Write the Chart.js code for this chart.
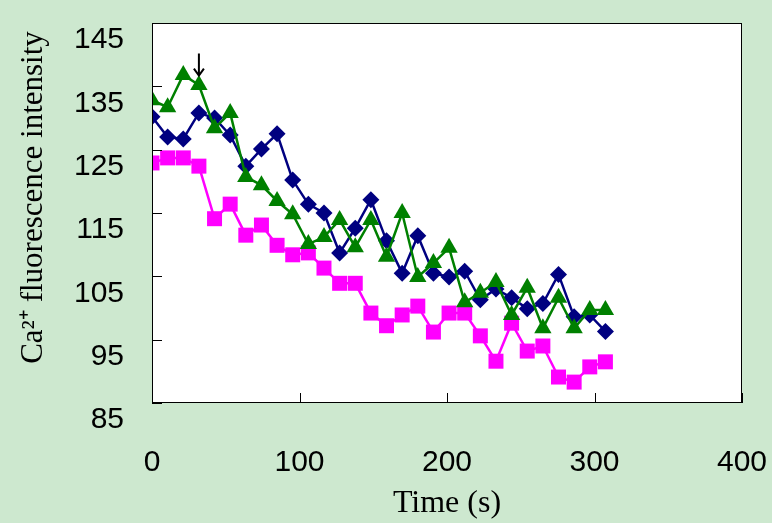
<!DOCTYPE html>
<html>
<head>
<meta charset="utf-8">
<script src="https://cdn.jsdelivr.net/npm/chart.js@4.4.1/dist/chart.umd.min.js"></script>
<style>
  html, body { margin: 0; padding: 0; background: #cde8cf; }
  #wrap { width: 772px; height: 523px; }
</style>
</head>
<body>
<div id="wrap"><canvas id="calcium"></canvas></div>
<script>
"use strict"

// time points (s)
const times = [0, 10.6, 21.2, 31.8, 42.4, 53, 63.6, 74.2, 84.8, 95.4, 106, 116.6, 127.2, 137.8, 148.4,
               159, 169.6, 180.2, 190.8, 201.4, 212, 222.6, 233.2, 243.8, 254.4, 265, 275.6, 286.2, 296.8, 307.4];

// fluorescence, three cells
const blueValues = [130.2, 127.0, 126.7, 130.8, 130.0, 127.3, 122.4, 125.1, 127.5, 120.2, 116.4, 115.0, 108.7, 112.6, 117.1,
                    110.6, 105.5, 111.4, 105.5, 104.9, 105.8, 101.3, 103.0, 101.6, 99.9, 100.7, 105.3, 98.6, 98.9, 96.3];
const greenValues = [132.8, 131.7, 136.8, 135.2, 128.4, 130.8, 120.7, 119.4, 116.9, 114.8, 110.1, 111.2, 113.9, 109.6, 113.9,
                     108.1, 115.0, 104.9, 107.1, 109.5, 100.9, 102.4, 104.1, 98.9, 103.2, 96.8, 101.6, 96.8, 99.7, 99.7];
const pinkValues = [122.9, 123.7, 123.7, 122.4, 114.1, 116.4, 111.5, 113.1, 109.9, 108.4, 108.7, 106.3, 103.9, 103.9, 99.2,
                    97.2, 98.9, 100.3, 96.2, 99.2, 99.2, 95.6, 91.6, 97.6, 93.2, 94.0, 89.1, 88.3, 90.7, 91.5];

const yTicks = [85, 95, 105, 115, 125, 135, 145];
const xTicks = [0, 100, 200, 300, 400];
const arrowIndex = 3;   // stimulus marker above 4th point

function toPoints(vals) {
    return vals.map((v, i) => ({x: times[i], y: v}));
}

const framePlugin = {
    id: 'frame',
    beforeDraw(chart) {
        const {ctx, chartArea: a, width, height} = chart;
        ctx.save();
        ctx.fillStyle = '#cde8cf';
        ctx.fillRect(0, 0, width, height);
        ctx.fillStyle = '#ffffff';
        ctx.fillRect(a.left, a.top, a.right - a.left, a.bottom - a.top);
        ctx.restore();
    },
    afterDatasetsDraw(chart) {
        const {ctx, chartArea: a, scales} = chart;
        ctx.save();
        ctx.strokeStyle = '#000';
        ctx.lineWidth = 1;
        ctx.strokeRect(a.left + 0.5, a.top + 0.5, a.right - a.left - 1, a.bottom - a.top - 1);
        ctx.beginPath();
        scales.y.ticks.forEach(t => {
            const py = Math.round(scales.y.getPixelForValue(t.value)) + 0.5;
            ctx.moveTo(a.left, py);
            ctx.lineTo(a.left + 10, py);
        });
        scales.x.ticks.forEach(t => {
            const px = Math.round(scales.x.getPixelForValue(t.value)) + 0.5;
            ctx.moveTo(px, a.bottom);
            ctx.lineTo(px, a.bottom - 10);
        });
        ctx.stroke();

        // arrow
        const ax = scales.x.getPixelForValue(times[arrowIndex]);
        const y0 = scales.y.getPixelForValue(140.2);
        const y1 = scales.y.getPixelForValue(136.7);
        ctx.lineWidth = 2;
        ctx.beginPath();
        ctx.moveTo(ax, y0);
        ctx.lineTo(ax, y1);
        ctx.moveTo(ax - 5, y1 - 7);
        ctx.lineTo(ax, y1);
        ctx.lineTo(ax + 5, y1 - 7);
        ctx.stroke();
        ctx.restore();
    }
};

const ctx = document.getElementById('calcium');
const myChart = new Chart(ctx, {
    type: 'line',
    data: {
        datasets: [{
            label: 'green',
            data: toPoints(greenValues),
            borderColor: '#008000',
            backgroundColor: '#008000',
            borderWidth: 2.5,
            pointStyle: 'triangle',
            pointRadius: 10,
            pointBorderWidth: 0
        }, {
            label: 'blue',
            data: toPoints(blueValues),
            borderColor: '#000080',
            backgroundColor: '#000080',
            borderWidth: 2.5,
            pointStyle: 'rectRot',
            pointRadius: 8.5,
            pointBorderWidth: 0
        }, {
            label: 'magenta',
            data: toPoints(pinkValues),
            borderColor: '#ff00ff',
            backgroundColor: '#ff00ff',
            borderWidth: 2.5,
            pointStyle: 'rect',
            pointRadius: 10.6,
            pointBorderWidth: 0
        }]
    },
    options: {
        responsive: true,
        maintainAspectRatio: false,
        animation: false,
        layout: { padding: { top: 23, right: 30, left: 0, bottom: 0 } },
        plugins: {
            legend: { display: false },
            tooltip: { enabled: false }
        },
        elements: { line: { tension: 0 } },
        scales: {
            x: {
                type: 'linear',
                min: 0,
                max: 400,
                afterBuildTicks: s => { s.ticks = xTicks.map(v => ({value: v})); },
                afterFit: s => { s.height = 120; s.paddingLeft = 0; s.paddingRight = 0; },
                grid: { display: false, drawTicks: false },
                border: { display: false },
                ticks: {
                    padding: 42,
                    color: '#000',
                    font: { family: 'Liberation Sans, Arial', size: 30 }
                },
                title: {
                    display: true,
                    text: 'Time (s)',
                    color: '#000',
                    padding: { top: 6, bottom: 0 },
                    font: { family: 'Liberation Serif, Times New Roman', size: 32 }
                }
            },
            y: {
                min: 85,
                max: 145,
                afterBuildTicks: s => { s.ticks = yTicks.map(v => ({value: v})); },
                afterFit: s => { s.width = 152; s.paddingTop = 0; s.paddingBottom = 0; },
                grid: { display: false, drawTicks: false },
                border: { display: false },
                ticks: {
                    padding: 28,
                    labelOffset: 17,
                    color: '#000',
                    font: { family: 'Liberation Sans, Arial', size: 30 }
                },
                title: {
                    display: true,
                    text: '    Ca\u00B2\u207A fluorescence intensity',
                    color: '#000',
                    padding: { top: 15, bottom: 10 },
                    font: { family: 'Liberation Serif, Times New Roman', size: 31 }
                }
            }
        }
    },
    plugins: [framePlugin]
});
</script>
</body>
</html>
